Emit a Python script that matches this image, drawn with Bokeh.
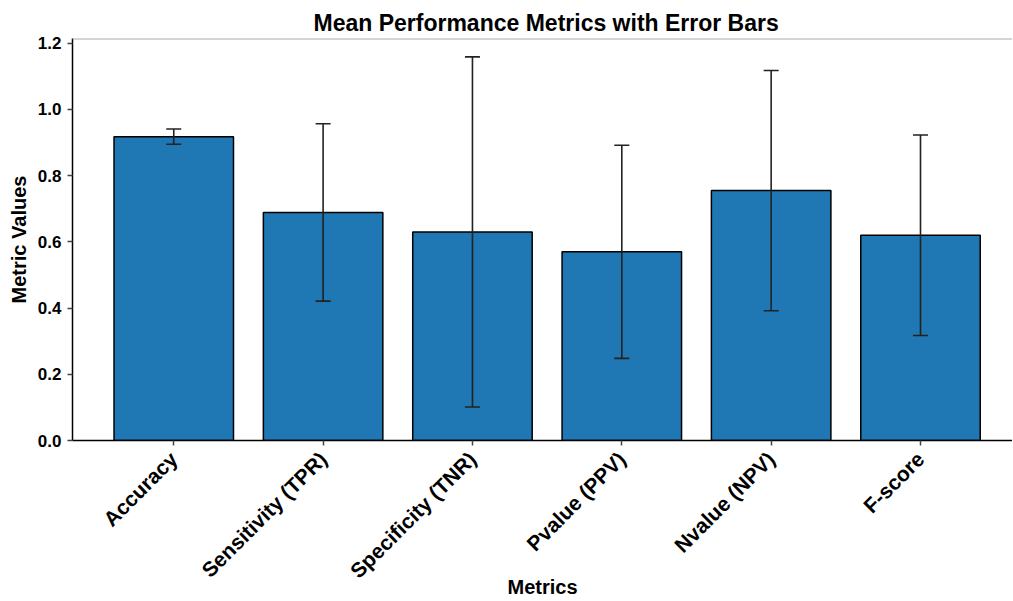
import math
from bokeh.plotting import figure
from bokeh.models import (ColumnDataSource, Whisker, TeeHead, FixedTicker,
                          NumeralTickFormatter, Span, Range1d)
from bokeh.embed import file_html
from bokeh.resources import INLINE

# ---- data ----
metrics = ["Accuracy", "Sensitivity (TPR)", "Specificity (TNR)",
           "Pvalue (PPV)", "Nvalue (NPV)", "F-score"]
means = [0.918, 0.689, 0.630, 0.570, 0.755, 0.620]
errors = [0.023, 0.268, 0.529, 0.322, 0.363, 0.303]
y_ticks = [0.0, 0.2, 0.4, 0.6, 0.8, 1.0, 1.2]

FONT = "Liberation Sans"
BAR = "#1f77b4"
Y_TOP = 1.2145

xs = list(range(len(metrics)))
src = ColumnDataSource(dict(
    x=xs, mean=means,
    upper=[m + e for m, e in zip(means, errors)],
    lower=[m - e for m, e in zip(means, errors)],
))

p = figure(width=1012, height=600, output_backend="svg", toolbar_location=None,
           x_range=Range1d(-0.678, 5.616), y_range=Range1d(0, Y_TOP),
           min_border_left=72, min_border_right=0, min_border_top=38,
           min_border_bottom=160,
           title="Mean Performance Metrics with Error Bars")

p.title.text_font = FONT
p.title.text_font_size = "23px"
p.title.text_font_style = "bold"
p.title.align = "left"
p.title.offset = 241
p.title.standoff = 5
p.title.text_color = "black"

p.vbar(x="x", top="mean", width=0.8, source=src, fill_color=BAR,
       line_color="black", line_width=1.5)

wh = Whisker(base="x", upper="upper", lower="lower", source=src,
             line_color="#222222", line_width=1.6, level="overlay",
             upper_head=TeeHead(size=15, line_color="#222222", line_width=1.6),
             lower_head=TeeHead(size=15, line_color="#222222", line_width=1.6))
p.add_layout(wh)

p.add_layout(Span(location=Y_TOP, dimension="width", line_color="#aaaaaa",
                  line_width=2))

p.outline_line_color = None
p.xgrid.visible = False
p.ygrid.visible = False

# x axis
p.xaxis.ticker = FixedTicker(ticks=xs)
p.xaxis.major_label_overrides = {i: m for i, m in enumerate(metrics)}
p.xaxis.major_label_orientation = math.pi / 4
p.xaxis.major_label_text_font_size = "21px"
p.xaxis.major_label_standoff = 10
p.xaxis.axis_label = "Metrics"
p.xaxis.axis_label_standoff = -18
p.xaxis.axis_label_text_font_size = "20px"

# y axis
p.yaxis.ticker = FixedTicker(ticks=y_ticks)
p.yaxis.formatter = NumeralTickFormatter(format="0.0")
p.yaxis.major_label_text_font_size = "17px"
p.yaxis.major_label_standoff = 6
p.yaxis.axis_label = "Metric Values"
p.yaxis.axis_label_standoff = 5
p.yaxis.axis_label_text_font_size = "20px"

for ax in (p.xaxis[0], p.yaxis[0]):
    ax.major_label_text_font = FONT
    ax.major_label_text_font_style = "bold"
    ax.major_label_text_color = "black"
    ax.axis_label_text_font = FONT
    ax.axis_label_text_font_style = "bold"
    ax.axis_label_text_color = "black"
    ax.axis_line_color = "black"
    ax.axis_line_width = 1.5
    ax.major_tick_line_color = "#444444"
    ax.major_tick_line_width = 1.5
    ax.major_tick_out = 5
    ax.major_tick_in = 0
    ax.minor_tick_line_color = None

open("out.html", "w").write(file_html(p, INLINE))
